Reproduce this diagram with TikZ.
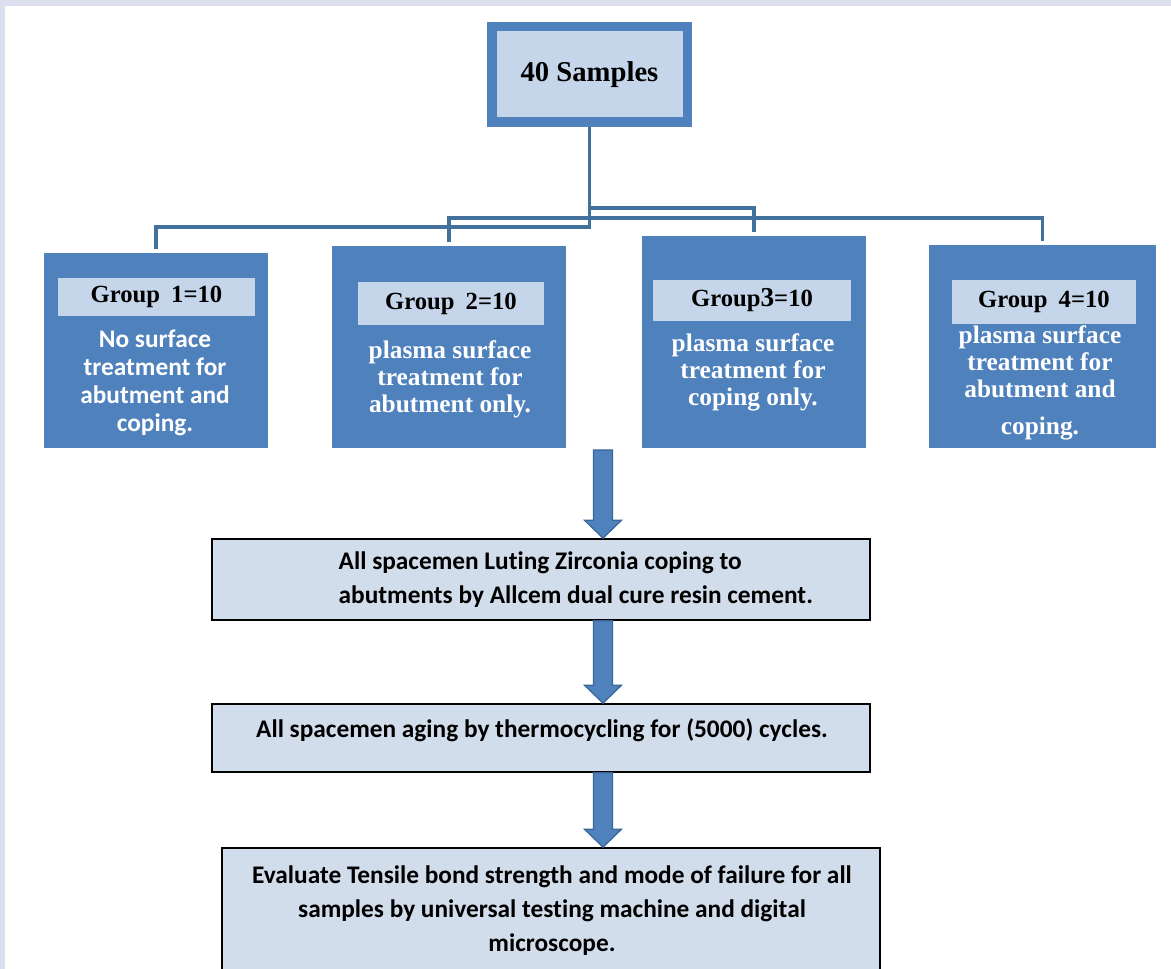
\documentclass[tikz,border=0pt]{standalone}
\usepackage{fontspec}
\setmainfont{Liberation Serif}
\newfontfamily\carlito[Ligatures=NoCommon]{Carlito}
\usetikzlibrary{calc}

\definecolor{boxblue}{HTML}{4F81BD}
\definecolor{linkblue}{HTML}{41719C}
\definecolor{headfill}{HTML}{C6D6EA}
\definecolor{stepfill}{HTML}{D2DDEB}
\definecolor{framebg}{HTML}{DCDFEE}
\definecolor{arrowline}{HTML}{3A6698}

\newcommand{\px}{0.75pt}
% wide block arrow going down from #1 to #2
\newcommand{\barrow}[2]{%
  \draw[blockarrow] let \p1=(#1), \p2=(#2) in
    (\x1-7.1pt,\y1) -- (\x1-7.1pt,\y2+13.5pt) -- (\x1-13.9pt,\y2+13.5pt) -- (\x1,\y2)
    -- (\x1+13.9pt,\y2+13.5pt) -- (\x1+7.1pt,\y2+13.5pt) -- (\x1+7.1pt,\y1) -- cycle;}

\begin{document}
\begin{tikzpicture}[x=0.75pt, y=-0.75pt,
    groupbox/.style={fill=boxblue, draw=none, inner sep=0pt},
    headbox/.style={fill=headfill, inner sep=0pt, font=\bfseries\fontsize{18.5}{20}\selectfont},
    grouptext/.style={text=white, align=center, font=\bfseries\fontsize{19}{20.3}\selectfont},
    link/.style={draw=linkblue, line width=2.3pt, shorten >=3pt},
    stepbox/.style={fill=stepfill, draw=black, line width=1.2pt, inner sep=0pt},
    steptext/.style={font=\carlito\bfseries\fontsize{19}{25.5}\selectfont},
    blockarrow/.style={fill=boxblue, draw=arrowline, line width=0.9pt, line join=miter}]

            \useasboundingbox (0,0) rectangle (1171,969);
            \clip (0,0) rectangle (1171,969);
            \fill[framebg] (0,0) rectangle (1171,969);
            \fill[white] (5,6) rectangle (1171,969);

            % top box
            \node[fill=headfill, draw=boxblue, line width=9.5*\px, minimum width=195.5*\px, minimum height=95.5*\px,
                  font=\bfseries\fontsize{21.5}{24}\selectfont] (samples) at (589.5,74.5) {40 Samples};

            % groups
            \node[groupbox, minimum width=224*\px, minimum height=195*\px] (g1) at (156,350.5) {};
            \node[groupbox, minimum width=234*\px, minimum height=202*\px] (g2) at (449,347) {};
            \node[groupbox, minimum width=224*\px, minimum height=212*\px] (g3) at (754,342) {};
            \node[groupbox, minimum width=227*\px, minimum height=203*\px] (g4) at (1042.5,346.5) {};

            \node[headbox, minimum width=197*\px, minimum height=38*\px] (h1) at (156.5,297) {Group\hspace{0.45em}1=10};
            \node[headbox, minimum width=186*\px, minimum height=43*\px] (h2) at (451,303.5) {Group\hspace{0.45em}2=10};
            \node[headbox, minimum width=198*\px, minimum height=41*\px] (h3) at (752,300.5) {Group{\fontsize{20.5}{22}\selectfont3}=10};
            \node[headbox, minimum width=184*\px, minimum height=44*\px] (h4) at (1044,302) {Group\hspace{0.45em}4=10};

            \node[grouptext, font=\carlito\bfseries\fontsize{19}{21}\selectfont] (t1) at (155,383)
                {No surface\\treatment for\\abutment and\\coping.};
            \node[grouptext] (t2) at (450,379) {plasma surface\\treatment for\\abutment only.};
            \node[grouptext] (t3) at (753,372) {plasma surface\\treatment for\\coping only.};
            \node[grouptext] (t4) at (1040,383) {plasma surface\\treatment for\\abutment and\\[7pt]coping.};

            % elbow links
            \draw[link] (samples.south) -- ++(0,100) -| (g1.north);
            \draw[link] (samples.south) -- ++(0,91) -| (g2.north);
            \draw[link] (samples.south) -- ++(0,81) -| (g3.north);
            \draw[link] (samples.south) -- ++(0,91) -| (g4.north);

            % steps
            \node[stepbox, minimum width=658*\px, minimum height=81*\px] (stepA) at (541,579.5) {};
            \node[stepbox, minimum width=658*\px, minimum height=68*\px] (stepB) at (541,738) {};
            \node[stepbox, minimum width=658*\px, minimum height=130*\px] (stepC) at (551,913) {};

            \node[steptext, align=left, anchor=west] (ta) at (334,580)
                {All spacemen Luting Zirconia coping to\\abutments by Allcem dual cure resin cement.};
            \node[steptext] (tb) at (542,730) {All spacemen aging by thermocycling for (5000) cycles.};
            \node[steptext, align=center] (tc) at (552,911)
                {Evaluate Tensile bond strength and mode of failure for all\\samples by universal testing machine and digital\\microscope.};

            % block arrows
            \coordinate (spine) at (603,450);
            \barrow{spine}{stepA.north -| spine}
            \barrow{stepA.south -| spine}{stepB.north -| spine}
            \barrow{stepB.south -| spine}{stepC.north -| spine}
        \end{tikzpicture}
\end{document}
